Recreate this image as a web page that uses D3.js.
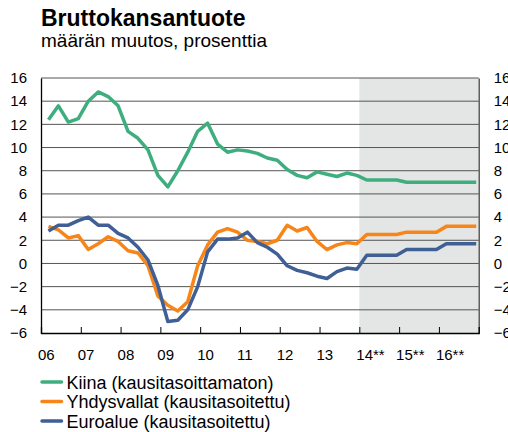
<!DOCTYPE html>
<html>
<head>
<meta charset="utf-8">
<script src="https://cdn.jsdelivr.net/npm/d3@7"></script>
<style>
  body { margin: 0; background: #fff; }
  svg { font-family: "Liberation Sans", Arial, sans-serif; }
</style>
</head>
<body>
<div id="chart"></div>
<script>
// quarterly data 2006Q1 - 2016Q4, forecasts from 2014
let yearLabels = ["06", "07", "08", "09", "10", "11", "12", "13", "14**", "15**", "16**"];
let yTicks = [-6, -4, -2, 0, 2, 4, 6, 8, 10, 12, 14, 16];

let kiina = [12.4, 13.6, 12.2, 12.5, 14.0, 14.8, 14.4, 13.6,
    11.4, 10.8, 9.8, 7.6, 6.6, 8.0, 9.6, 11.4,
    12.1, 10.3, 9.6, 9.8, 9.7, 9.5, 9.1, 8.9,
    8.1, 7.6, 7.4, 7.9, 7.7, 7.5, 7.8, 7.6,
    7.2, 7.2, 7.2, 7.2, 7.0, 7.0, 7.0, 7.0,
    7.0, 7.0, 7.0, 7.0];
let yhdysvallat = [3.2, 2.9, 2.2, 2.4, 1.2, 1.7, 2.3, 1.9,
    1.1, 0.9, -0.2, -2.8, -3.6, -4.1, -3.3, -0.2,
    1.6, 2.7, 3.0, 2.7, 2.0, 1.9, 1.7, 2.0,
    3.3, 2.8, 3.1, 1.9, 1.2, 1.6, 1.8, 1.7,
    2.5, 2.5, 2.5, 2.5, 2.7, 2.7, 2.7, 2.7,
    3.2, 3.2, 3.2, 3.2];
let euroalue = [2.8, 3.3, 3.3, 3.7, 4.0, 3.3, 3.3, 2.6,
    2.2, 1.4, 0.3, -1.9, -5.0, -4.9, -4.0, -2.0,
    1.0, 2.1, 2.1, 2.2, 2.7, 1.8, 1.4, 0.8,
    -0.2, -0.6, -0.8, -1.1, -1.3, -0.7, -0.4, -0.5,
    0.7, 0.7, 0.7, 0.7, 1.2, 1.2, 1.2, 1.2,
    1.7, 1.7, 1.7, 1.7];

let seriesNames = ["Kiina (kausitasoittamaton)", "Yhdysvallat (kausitasoitettu)", "Euroalue (kausitasoitettu)"];
let seriesColors = ["#3fae7f", "#f7861a", "#3f5f95"];
let seriesData = [kiina, yhdysvallat, euroalue];

let width = 508, height = 432;
let margin = {top: 78, right: 29.3, bottom: 99, left: 41};

let svg = d3.select("#chart").append("svg")
    .attr("width", width)
    .attr("height", height);

let x = d3.scaleLinear()
    .domain([2006, 2017])
    .range([margin.left, width - margin.right]);

let y = d3.scaleLinear()
    .domain([-6, 16])
    .range([height - margin.bottom, margin.top]);

// position of a quarter
let qx = i => x(2006 + (i + 0.75) / 4);

// title
svg.append("text")
    .attr("x", 41).attr("y", 26)
    .style("font-size", "23px").style("font-weight", "bold")
    .text("Bruttokansantuote");
svg.append("text")
    .attr("x", 41).attr("y", 47)
    .style("font-size", "19px")
    .text("määrän muutos, prosenttia");

// forecast shading
svg.append("rect")
    .attr("x", x(2014)).attr("y", y(16))
    .attr("width", x(2017) - x(2014))
    .attr("height", y(-6) - y(16))
    .attr("fill", "#e4e5e5");

// gridlines
svg.append("g").selectAll("line")
    .data(yTicks.filter(d => d > -6))
    .enter().append("line")
    .attr("x1", x(2006)).attr("x2", x(2017))
    .attr("y1", d => y(d)).attr("y2", d => y(d))
    .attr("stroke", "#555").attr("stroke-width", 1);

// left axis + labels
let yAxisL = d3.axisLeft(y).tickValues(yTicks).tickSize(0).tickPadding(14);
svg.append("g")
    .attr("transform", `translate(${x(2006)},0)`)
    .call(yAxisL)
    .call(g => g.select(".domain").attr("stroke", "#000").attr("stroke-width", 1.3))
    .call(g => g.selectAll("text").style("font-size", "15px").attr("fill", "#000")
        .style("font-family", "Liberation Sans, Arial, sans-serif"));

let yAxisR = d3.axisRight(y).tickValues(yTicks).tickSize(0).tickPadding(15);
svg.append("g")
    .attr("transform", `translate(${x(2017)},0)`)
    .call(yAxisR)
    .call(g => g.select(".domain").attr("stroke", "#444").attr("stroke-width", 1.3))
    .call(g => g.selectAll("text").style("font-size", "15px").attr("fill", "#000")
        .style("font-family", "Liberation Sans, Arial, sans-serif"));

// bottom axis with inside ticks
let xAxis = d3.axisBottom(x)
    .tickValues(d3.range(2007, 2017))
    .tickSize(-6)
    .tickFormat("");
svg.append("g")
    .attr("transform", `translate(0,${y(-6)})`)
    .call(xAxis)
    .call(g => g.select(".domain").attr("stroke", "#000").attr("stroke-width", 1.3))
    .call(g => g.selectAll(".tick line").attr("stroke", "#000"));

// year labels
svg.append("g").selectAll("text")
    .data(yearLabels)
    .enter().append("text")
    .attr("x", (d, i) => x(2006 + i) - 3)
    .attr("y", 360)
    .style("font-size", "15px")
    .text(d => d);

// lines
let line = d3.line()
    .x((d, i) => qx(i))
    .y(d => y(d));

svg.append("g").selectAll("path")
    .data(seriesData)
    .enter().append("path")
    .attr("d", d => line(d))
    .attr("fill", "none")
    .attr("stroke", (d, i) => seriesColors[i])
    .attr("stroke-width", 3.5)
    .attr("stroke-linejoin", "round");

// legend
let legend = svg.append("g").selectAll("g")
    .data(seriesNames)
    .enter().append("g")
    .attr("transform", (d, i) => `translate(41,${382 + i * 19.5})`);
legend.append("line")
    .attr("x1", 1).attr("x2", 20.5)
    .attr("stroke", (d, i) => seriesColors[i])
    .attr("stroke-width", 3.5)
    .attr("stroke-linecap", "round");
legend.append("text")
    .attr("x", 25.5).attr("y", 6.5)
    .style("font-size", "18px")
    .text(d => d);
</script>
</body>
</html>
